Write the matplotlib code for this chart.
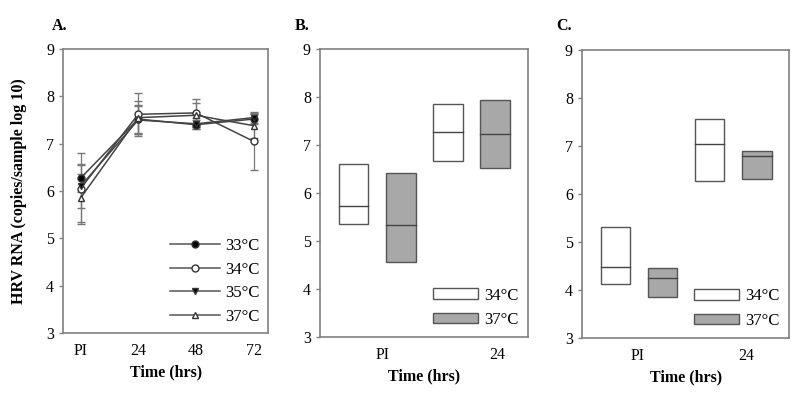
import matplotlib
matplotlib.use("Agg")
import matplotlib.pyplot as plt
from matplotlib.patches import Rectangle, Patch
from matplotlib.lines import Line2D

plt.rcParams["font.family"] = ["Liberation Serif", "DejaVu Serif"]

# Panel A: mean RNA per temperature with error bars
time_labels_a = ["PI", "24", "48", "72"]
temps_a = ["33°C", "34°C", "35°C", "37°C"]
mean_33 = [6.27, 7.52, 7.40, 7.52]
mean_34 = [6.05, 7.62, 7.65, 7.05]
mean_35 = [6.10, 7.50, 7.42, 7.55]
mean_37 = [5.85, 7.55, 7.60, 7.38]
err_33 = [0.30, 0.30, 0.10, 0.10]
err_34 = [0.75, 0.45, 0.30, 0.60]
err_35 = [0.45, 0.30, 0.12, 0.12]
err_37 = [0.50, 0.35, 0.25, 0.25]

# Panels B and C: box summaries (low, median, high), order: 34 PI, 37 PI, 34 24h, 37 24h
time_labels_bc = ["PI", "24"]
box_temps = ["34°C", "37°C", "34°C", "37°C"]
b_low = [5.35, 4.56, 6.66, 6.52]
b_med = [5.73, 5.33, 7.27, 7.23]
b_high = [6.60, 6.42, 7.85, 7.94]
c_low = [4.13, 3.85, 6.27, 6.31]
c_med = [4.48, 4.25, 7.04, 6.80]
c_high = [5.31, 4.46, 7.56, 6.90]

fig = plt.figure(figsize=(8, 4), dpi=100)
axA = fig.add_axes([0.079, 0.1675, 0.256, 0.71])
axB = fig.add_axes([0.400, 0.1575, 0.260, 0.72])
axC = fig.add_axes([0.7275, 0.155, 0.259, 0.72])

spine_col = "#808080"


def style(ax):
    ax.set_ylim(3, 9)
    ax.set_yticks(range(3, 10))
    for s in ax.spines.values():
        s.set_color(spine_col)
        s.set_linewidth(1.2)
    ax.tick_params(axis="both", labelsize=11.5, color=spine_col, length=3, width=1)
    ax.tick_params(axis="x", length=0, pad=7)
    ax.set_xlabel("Time (hrs)", fontsize=11.5, fontweight="bold", labelpad=4)


# ---- Panel A ----
x = range(len(time_labels_a))
styles = [
    (mean_33, err_33, "o", "black"),
    (mean_34, err_34, "o", "white"),
    (mean_35, err_35, "v", "black"),
    (mean_37, err_37, "^", "white"),
]
handles_a = []
for (m, e, mk, fc), lab in zip(styles, temps_a):
    axA.errorbar(x, m, yerr=e, marker=mk, markersize=5, mfc=fc, mec="#333333",
                 color="#444444", lw=1.1, ecolor="#777777", elinewidth=0.9,
                 capsize=3)
    handles_a.append(Line2D([], [], marker=mk, markersize=5, mfc=fc, mec="#333333",
                            color="#555555", lw=1.1))
axA.set_xlim(-0.3, 3.25)
axA.set_xticks(list(x))
axA.set_xticklabels(time_labels_a)
style(axA)
axA.set_ylabel("HRV RNA (copies/sample log 10)", fontsize=11.5, fontweight="bold", labelpad=14)
axA.legend(handles_a, temps_a, loc="lower right", frameon=False, fontsize=12,
           handlelength=3.0, labelspacing=0.45, borderaxespad=0.1, handletextpad=0.3)


# ---- Panels B and C ----
def boxes(ax, low, med, high, tick_pos):
    fills = ["white", "#a8a8a8", "white", "#a8a8a8"]
    w = 0.63
    for i, (lo, md, hi) in enumerate(zip(low, med, high)):
        ax.add_patch(Rectangle((i - w / 2, lo), w, hi - lo, facecolor=fills[i],
                               edgecolor="#555555", lw=1.0))
        ax.plot([i - w / 2, i + w / 2], [md, md], color="#444444", lw=1.0)
    ax.set_xlim(-0.71, 3.69)
    ax.set_xticks(tick_pos)
    ax.set_xticklabels(time_labels_bc)
    style(ax)
    handles = [Patch(facecolor="white", edgecolor="#555555"),
               Patch(facecolor="#a8a8a8", edgecolor="#555555")]
    ax.legend(handles, box_temps[:2], loc="lower right", frameon=False, fontsize=12,
              handlelength=2.7, handleheight=0.6, labelspacing=0.5,
              borderaxespad=0.15, handletextpad=0.4)


boxes(axB, b_low, b_med, b_high, [0.61, 3.04])
boxes(axC, c_low, c_med, c_high, [0.47, 2.77])

for ax, lab, xp in [(axA, "A.", 0.065), (axB, "B.", 0.368), (axC, "C.", 0.695)]:
    fig.text(xp, 0.935, lab, fontsize=11.5, fontweight="bold", ha="left", va="center")

fig.savefig("out.png", dpi=100)
